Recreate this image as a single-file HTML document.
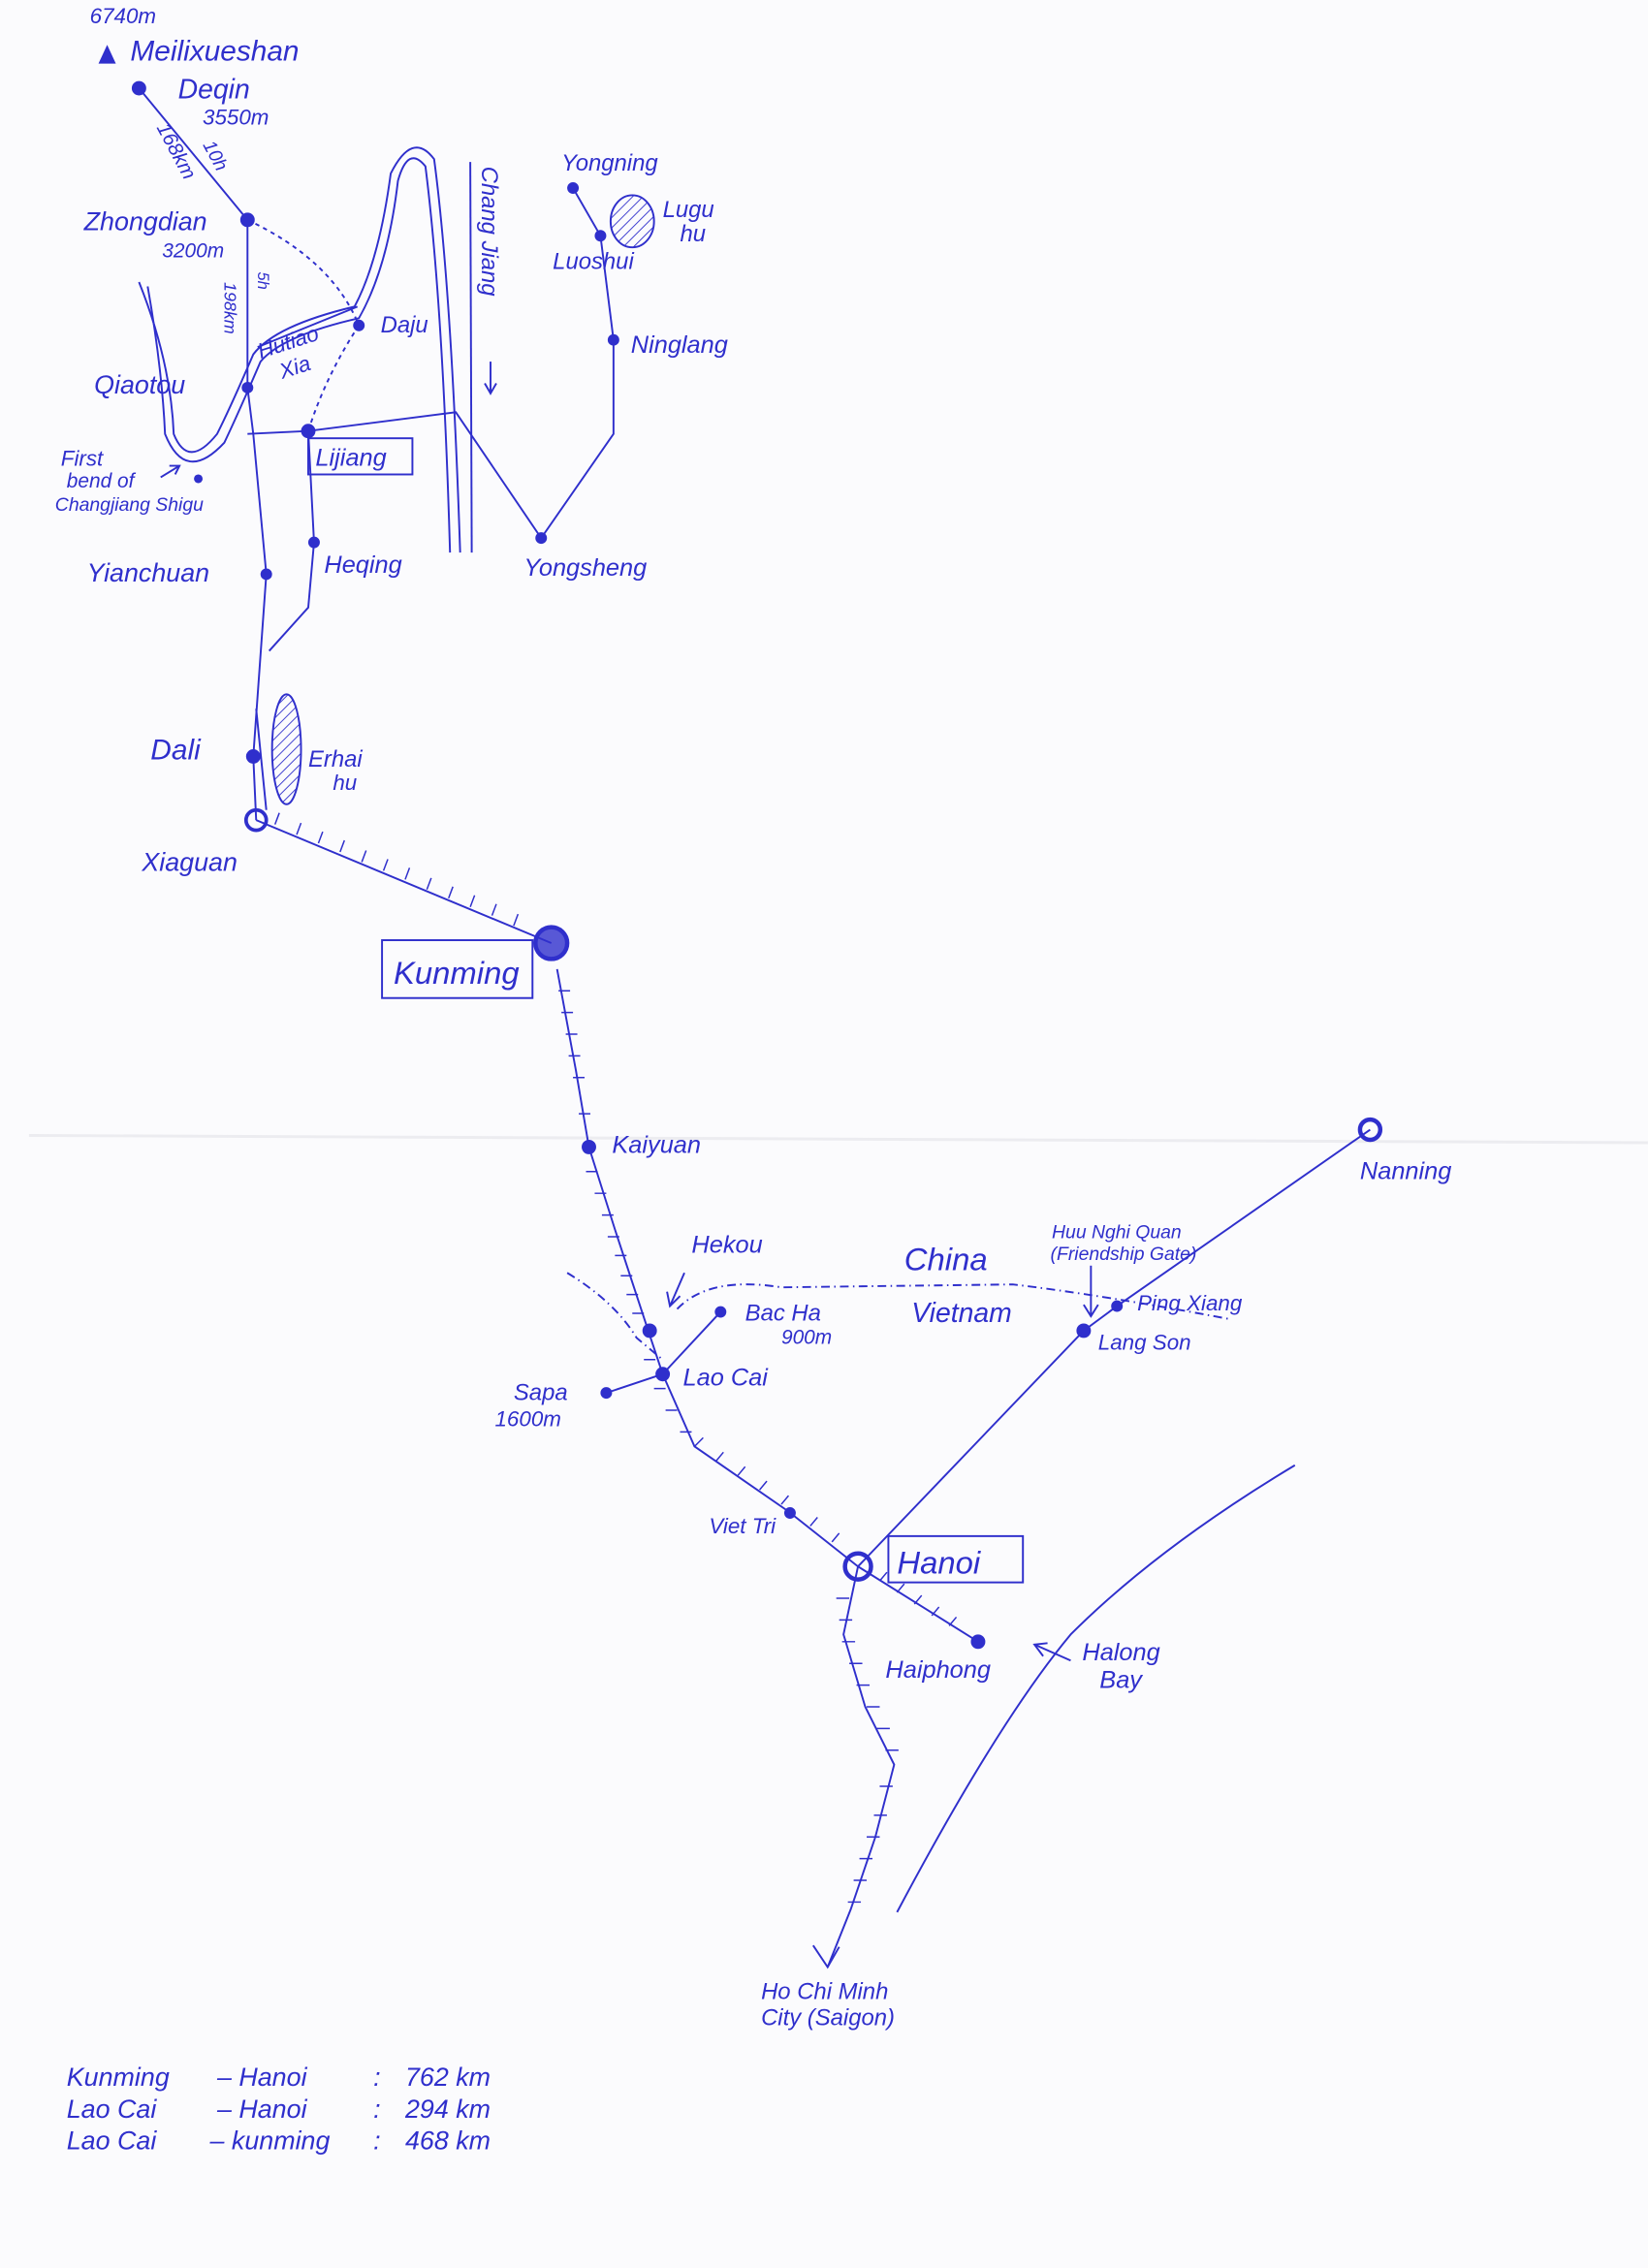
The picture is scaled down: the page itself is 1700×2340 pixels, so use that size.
<!DOCTYPE html>
<html><head><meta charset="utf-8"><style>
html,body{margin:0;padding:0;background:#fbfbfd;}
svg{display:block;}
text{font-family:"Liberation Sans",sans-serif;font-style:italic;fill:#2f2fcc;}
</style></head><body>
<svg width="1700" height="2340" viewBox="0 0 1139 1568" xmlns="http://www.w3.org/2000/svg">
<defs>
<pattern id="h" width="5" height="5" patternUnits="userSpaceOnUse" patternTransform="rotate(45)"><line x1="0" y1="0" x2="0" y2="5" stroke="#2f2fcc" stroke-width="1.2"/></pattern>
</defs>
<rect width="1139" height="1568" fill="#fbfbfd"/>
<line x1="20" y1="785" x2="1139" y2="790" stroke="#ececf0" stroke-width="2"/>
<g stroke="#2f2fcc" fill="none" stroke-width="1.3">
<polyline points="96,61 171,152 171,268 175,300 184,397 175,523 177,567"/>
<path d="M171,152 Q230,180 248,225" stroke-dasharray="3,3"/>
<path d="M248,225 Q225,260 213,298" stroke-dasharray="3,3"/>
<polyline points="171,300 213,298 315,285 374,372 424,300 424,235 415,163 396,130"/>
<polyline points="213,298 217,375 213,420 186,450"/>
<line x1="177" y1="490" x2="184" y2="560"/>
<path d="M318,382 Q312,200 300,110 Q285,90 270,120 Q262,180 245,212 Q190,225 175,245 Q160,280 150,300 Q130,325 120,300 Q118,250 96,195"/>
<path d="M311,382 Q306,210 294,115 Q282,100 275,125 Q268,185 248,220 Q195,232 180,250 Q165,285 155,306 Q128,335 114,300 Q112,255 102,198"/>
<line x1="325" y1="112" x2="326" y2="382"/>
<line x1="178" y1="240" x2="247" y2="212"/>
<polyline points="177,567 381,652"/>
<polyline points="385,670 398,740 407,793 425,850 448,920 458,950 480,1000 545,1045 593,1083 676,1135"/>
<polyline points="593,1083 583,1130 598,1180 618,1220 605,1270 588,1320 572,1360"/>
<polyline points="562,1345 572,1360 580,1346"/>
<polyline points="947,781 772,903 749,920 593,1083"/>
<line x1="458" y1="950" x2="498" y2="907"/>
<line x1="458" y1="950" x2="419" y2="963"/>
<path d="M895,1013 Q800,1070 740,1130 Q690,1190 620,1322"/>
<path d="M392,880 Q425,900 440,925 L458,940" stroke-dasharray="6,3,1,3"/>
<path d="M468,905 Q490,882 540,890 L700,888 Q760,895 850,912" stroke-dasharray="6,3,1,3"/>
<line x1="473" y1="880" x2="463" y2="903"/><polyline points="461,893 463,903 470,896"/>
<line x1="754" y1="875" x2="754" y2="910"/><polyline points="749,902 754,910 759,902"/>
<line x1="740" y1="1148" x2="715" y2="1137"/><polyline points="724,1136 715,1137 721,1145"/>
<line x1="111" y1="330" x2="124" y2="322"/><polyline points="117,322 124,322 121,328"/>
<line x1="339" y1="250" x2="339" y2="272"/><polyline points="335,265 339,272 343,265"/>
<rect x="213" y="303" width="72" height="25"/>
<rect x="264" y="650" width="104" height="40"/>
<rect x="614" y="1062" width="93" height="32"/>
</g>
<g stroke="#2f2fcc" stroke-width="1">
<path d="M190,570l3,-8M205,577l3,-8M220,583l3,-8M235,589l3,-8M250,596l3,-8M265,602l3,-8M280,608l3,-8M295,615l3,-8M310,621l3,-8M325,627l3,-8M340,633l3,-8M355,640l3,-8"/>
<path d="M386,685h8M388,700h8M391,715h8M393,730h8M396,745h8M400,770h8M405,810h8M411,825h8M416,840h8M420,855h8M425,868h8M429,882h8M433,895h8M437,908h8M445,940h8M452,960h8M460,975h8M470,990h8M480,1000l6,-6M495,1010l5,-6M510,1020l5,-6M525,1030l5,-6M540,1040l5,-6M560,1055l5,-6M575,1066l5,-6"/>
<path d="M608,1093l5,-6M620,1101l5,-6M632,1109l5,-6M644,1117l5,-6M656,1124l5,-6"/>
<path d="M578,1105h9M580,1120h9M582,1135h9M587,1150h9M592,1165h9M599,1180h9M606,1195h9M612,1210h9M608,1235h9M604,1255h9M599,1270h9M594,1285h9M590,1300h9M586,1315h9"/>
</g>
<ellipse cx="437" cy="153" rx="15" ry="18" fill="url(#h)" stroke="#2f2fcc" stroke-width="1.3"/>
<ellipse cx="198" cy="518" rx="10" ry="38" fill="url(#h)" stroke="#2f2fcc" stroke-width="1.3"/>
<polygon points="68,44 74,31 80,44" fill="#2f2fcc"/>
<g fill="#2f2fcc">
<circle cx="96" cy="61" r="5"/><circle cx="171" cy="152" r="5"/><circle cx="171" cy="268" r="4"/>
<circle cx="248" cy="225" r="4"/><circle cx="213" cy="298" r="5"/><circle cx="217" cy="375" r="4"/>
<circle cx="184" cy="397" r="4"/><circle cx="175" cy="523" r="5"/><circle cx="137" cy="331" r="3"/>
<circle cx="396" cy="130" r="4"/><circle cx="415" cy="163" r="4"/><circle cx="424" cy="235" r="4"/><circle cx="374" cy="372" r="4"/>
<circle cx="407" cy="793" r="5"/><circle cx="449" cy="920" r="5"/><circle cx="458" cy="950" r="5"/>
<circle cx="498" cy="907" r="4"/><circle cx="419" cy="963" r="4"/><circle cx="546" cy="1046" r="4"/>
<circle cx="676" cy="1135" r="5"/><circle cx="749" cy="920" r="5"/><circle cx="772" cy="903" r="4"/>
</g>
<circle cx="177" cy="567" r="7" fill="none" stroke="#2f2fcc" stroke-width="2.5"/>
<circle cx="381" cy="652" r="11" fill="#2f2fcc" stroke="#2f2fcc" stroke-width="3" fill-opacity="0.8"/>
<circle cx="593" cy="1083" r="9" fill="none" stroke="#2f2fcc" stroke-width="3"/>
<circle cx="947" cy="781" r="7" fill="none" stroke="#2f2fcc" stroke-width="3"/>
<g font-size="17">
<text x="62" y="16" font-size="15">6740m</text>
<text x="90" y="42" font-size="20">Meilixueshan</text>
<text x="123" y="68" font-size="19">Deqin</text><text x="140" y="86" font-size="15">3550m</text>
<text x="58" y="159" font-size="18">Zhongdian</text><text x="112" y="178" font-size="14">3200m</text>
<text x="263" y="230" font-size="16">Daju</text>
<text x="65" y="272" font-size="18">Qiaotou</text>
<text x="180" y="248" font-size="15" transform="rotate(-18 180 248)">Hutiao</text><text x="195" y="262" font-size="15" transform="rotate(-18 195 262)">Xia</text>
<text x="218" y="322" font-size="17">Lijiang</text>
<text x="42" y="322" font-size="15">First</text><text x="46" y="337" font-size="14">bend of</text>
<text x="38" y="353" font-size="13">Changjiang Shigu</text>
<text x="224" y="396" font-size="17">Heqing</text>
<text x="60" y="402" font-size="18">Yianchuan</text>
<text x="362" y="398" font-size="17">Yongsheng</text>
<text x="388" y="118" font-size="16">Yongning</text>
<text x="458" y="150" font-size="16">Lugu</text><text x="470" y="167" font-size="16">hu</text>
<text x="382" y="186" font-size="16">Luoshui</text>
<text x="436" y="244" font-size="17">Ninglang</text>
<text x="104" y="525" font-size="20">Dali</text>
<text x="213" y="530" font-size="16">Erhai</text><text x="230" y="546" font-size="15">hu</text>
<text x="98" y="602" font-size="18">Xiaguan</text>
<text x="272" y="680" font-size="22">Kunming</text>
<text x="423" y="797" font-size="17">Kaiyuan</text>
<text x="478" y="866" font-size="17">Hekou</text>
<text x="515" y="913" font-size="16">Bac Ha</text><text x="540" y="929" font-size="14">900m</text>
<text x="472" y="958" font-size="17">Lao Cai</text>
<text x="355" y="968" font-size="16">Sapa</text><text x="342" y="986" font-size="15">1600m</text>
<text x="625" y="878" font-size="22">China</text>
<text x="630" y="914" font-size="19">Vietnam</text>
<text x="727" y="856" font-size="13">Huu Nghi Quan</text><text x="726" y="871" font-size="13">(Friendship Gate)</text>
<text x="786" y="906" font-size="15">Ping Xiang</text>
<text x="759" y="933" font-size="15">Lang Son</text>
<text x="940" y="815" font-size="17">Nanning</text>
<text x="490" y="1060" font-size="15">Viet Tri</text>
<text x="620" y="1088" font-size="22">Hanoi</text>
<text x="612" y="1160" font-size="17">Haiphong</text>
<text x="748" y="1148" font-size="17">Halong</text><text x="760" y="1167" font-size="17">Bay</text>
<text x="526" y="1382" font-size="16">Ho Chi Minh</text><text x="526" y="1400" font-size="16">City (Saigon)</text>
<text x="46" y="1442" font-size="18">Kunming</text><text x="150" y="1442" font-size="18">– Hanoi</text><text x="258" y="1442" font-size="18">:</text><text x="280" y="1442" font-size="18">762 km</text>
<text x="46" y="1464" font-size="18">Lao Cai</text><text x="150" y="1464" font-size="18">– Hanoi</text><text x="258" y="1464" font-size="18">:</text><text x="280" y="1464" font-size="18">294 km</text>
<text x="46" y="1486" font-size="18">Lao Cai</text><text x="145" y="1486" font-size="18">– kunming</text><text x="258" y="1486" font-size="18">:</text><text x="280" y="1486" font-size="18">468 km</text>
<text x="108" y="88" font-size="14" transform="rotate(62 108 88)">168km</text>
<text x="140" y="100" font-size="13" transform="rotate(62 140 100)">10h</text>
<text x="155" y="195" font-size="12" transform="rotate(90 155 195)">198km</text>
<text x="178" y="188" font-size="11" transform="rotate(90 178 188)">5h</text>
<text x="333" y="115" font-size="16" transform="rotate(90 333 115)">Chang Jiang</text>
</g>
</svg>
</body></html>
